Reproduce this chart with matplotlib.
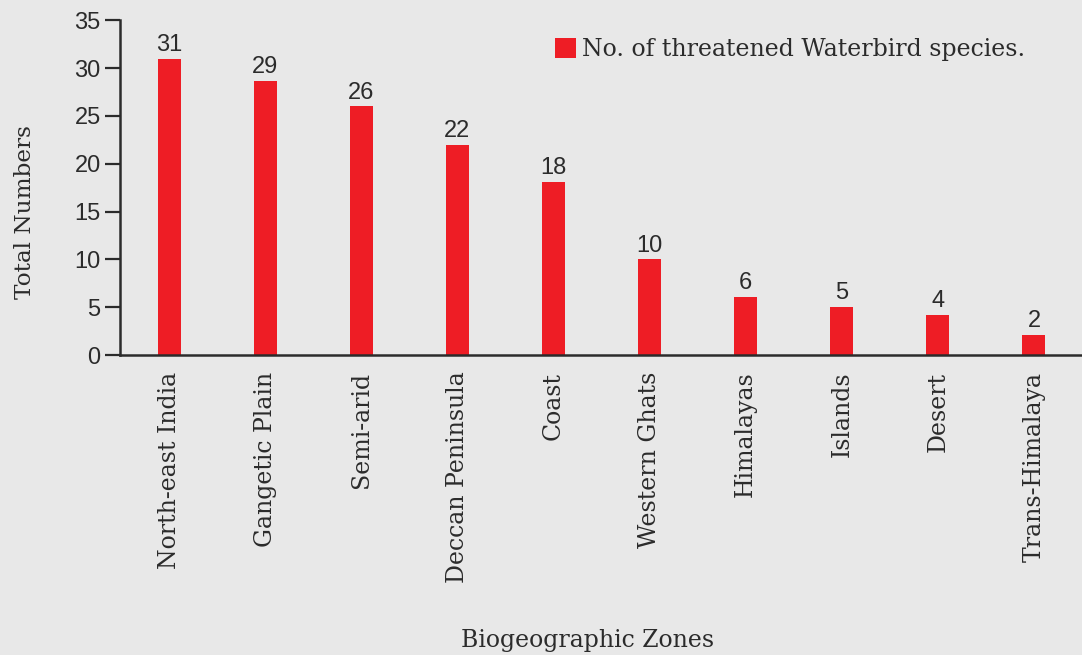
#!/usr/bin/python3

import matplotlib.pyplot as plt

zones = ['North-east India', 'Gangetic Plain', 'Semi-arid', 'Deccan Peninsula',
         'Coast', 'Western Ghats', 'Himalayas', 'Islands', 'Desert', 'Trans-Himalaya']
bar_heights = [31, 28.7, 26, 22, 18.1, 10, 6.1, 5, 4.2, 2.1]
bar_labels = ['31', '29', '26', '22', '18', '10', '6', '5', '4', '2']
yticks = [0, 5, 10, 15, 20, 25, 30, 35]

bg = '#e8e8e8'
red = '#ee1d25'
dark = '#2b2b2b'
serif = 'DejaVu Serif'
sans = 'Liberation Sans'

fig = plt.figure(figsize=(10.82, 6.55), dpi=100, facecolor=bg)
ax = fig.add_axes([0.111, 0.458, 0.889, 0.511], facecolor=bg)

x = list(range(len(zones)))
bars = ax.bar(x, bar_heights, width=0.24, color=red,
              label='No. of threatened Waterbird species.')

for b, lab in zip(bars, bar_labels):
    ax.text(b.get_x() + b.get_width() / 2, b.get_height() + 0.3, lab,
            ha='center', va='bottom', fontsize=17, family=sans, color=dark)

ax.set_xlim(-0.51, 9.5)
ax.set_ylim(0, 35)
ax.set_yticks(yticks)
ax.set_yticklabels([str(t) for t in yticks], family=sans, fontsize=17, color=dark)
ax.set_xticks(x)
ax.set_xticklabels(zones, rotation=90, family=serif, fontsize=17, color=dark)
ax.tick_params(axis='x', length=0, pad=12)
ax.tick_params(axis='y', length=11, width=1.6, color=dark, pad=3)

for side in ['top', 'right']:
    ax.spines[side].set_visible(False)
for side in ['left', 'bottom']:
    ax.spines[side].set_color(dark)
    ax.spines[side].set_linewidth(1.8)

ax.set_ylabel('Total Numbers', family=serif, fontsize=16.7, color=dark)
ax.yaxis.set_label_coords(-0.087, 0.427)
fig.text(0.543, 0.004, 'Biogeographic Zones', ha='center', va='bottom',
         family=serif, fontsize=17, color=dark)

ax.legend(loc='upper left', bbox_to_anchor=(0.43, 1.01), frameon=False,
          prop={'family': serif, 'size': 17}, handlelength=0.9,
          handleheight=0.9, handletextpad=0.25, labelcolor=dark)

plt.savefig('out.png', dpi=100, facecolor=bg)
